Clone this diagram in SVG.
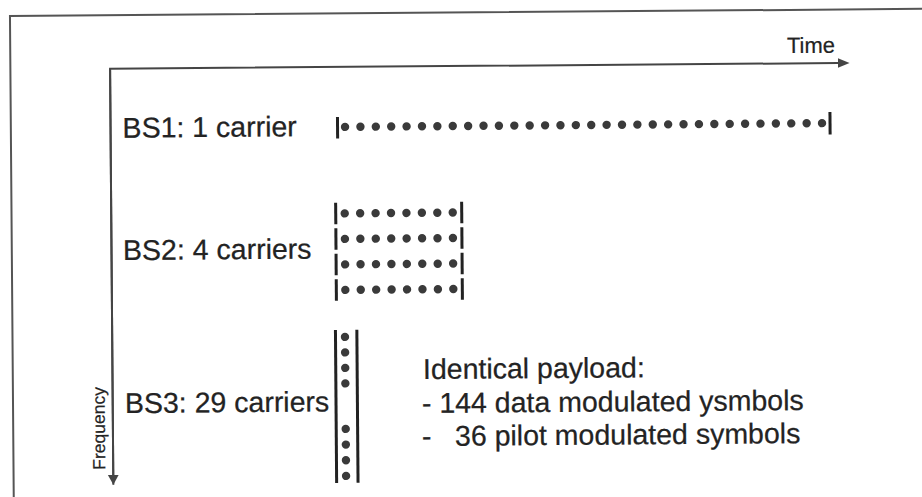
<svg xmlns="http://www.w3.org/2000/svg" width="922" height="497" viewBox="0 0 922 497">
  <style>
    .lbl { font-family: "Liberation Sans", Arial, sans-serif; font-size: 28.5px; fill: #232323; stroke: #232323; stroke-width: 0.25px; }
    .small { font-family: "Liberation Sans", Arial, sans-serif; fill: #232323; stroke: #232323; stroke-width: 0.2px; }
    .frame { fill: none; stroke: #555555; stroke-width: 2; }
    .axis { fill: none; stroke: #454545; stroke-width: 2; }
    .tick { stroke: #222222; stroke-width: 3; stroke-linecap: butt; }
    .dots { fill: none; stroke: #3a3a3a; stroke-width: 8.4; stroke-linecap: round; }
  </style>
  <defs>
    <marker id="arrowT" markerUnits="userSpaceOnUse" markerWidth="13" markerHeight="11" refX="0.5" refY="5" orient="auto" viewBox="0 0 13 10">
      <path d="M0,0 L12,5 L0,10 z" fill="#454545"/>
    </marker>
    <marker id="arrowF" markerUnits="userSpaceOnUse" markerWidth="11" markerHeight="12" refX="0.5" refY="5.5" orient="auto" viewBox="0 0 11 11">
      <path d="M0,0 L10,5.5 L0,11 z" fill="#454545"/>
    </marker>
  </defs>
  <rect x="0" y="0" width="922" height="497" fill="#ffffff"/>
  <g transform="rotate(-0.45 461 248)">
    <g id="frame">
      <path class="frame" d="M11.8,520 V12.5 H940"/>
    </g>
    <g id="connectors">
      <path class="axis" d="M111.5,482 V66 H839.5" marker-end="url(#arrowT)"/>
      <path class="axis" d="M111.5,66 V472.5" marker-end="url(#arrowF)"/>
    </g>
    <g id="time-label">
      <text class="small" x="788.5" y="55.6" font-size="22">Time</text>
    </g>
    <g id="frequency-label">
      <text class="small" font-size="17.5" transform="translate(103.5,467) rotate(-90)">Frequency</text>
    </g>
    <g id="bs1">
      <text class="lbl" x="123.5" y="135">BS1: 1 carrier</text>
      <line class="tick" x1="338.5" y1="116" x2="338.5" y2="137.5"/>
      <path class="dots" d="M346,126 H823.1" stroke-dasharray="0 15.387"/>
      <line class="tick" x1="831" y1="115" x2="831" y2="137.5"/>
    </g>
    <g id="bs2">
      <text class="lbl" x="123" y="257.4">BS2: 4 carriers</text>
      <g>
        <line class="tick" x1="336" y1="201.7" x2="336" y2="223.3"/>
        <line class="tick" x1="462" y1="201.7" x2="462" y2="223.3"/>
        <path class="dots" d="M345,212.5 H453.1" stroke-dasharray="0 15.43"/>
      </g>
      <g>
        <line class="tick" x1="336" y1="227.2" x2="336" y2="248.8"/>
        <line class="tick" x1="462" y1="227.2" x2="462" y2="248.8"/>
        <path class="dots" d="M345,238 H453.1" stroke-dasharray="0 15.43"/>
      </g>
      <g>
        <line class="tick" x1="336" y1="252.7" x2="336" y2="274.3"/>
        <line class="tick" x1="462" y1="252.7" x2="462" y2="274.3"/>
        <path class="dots" d="M345,263.5 H453.1" stroke-dasharray="0 15.43"/>
      </g>
      <g>
        <line class="tick" x1="336" y1="278.2" x2="336" y2="299.8"/>
        <line class="tick" x1="462" y1="278.2" x2="462" y2="299.8"/>
        <path class="dots" d="M345,289 H453.1" stroke-dasharray="0 15.43"/>
      </g>
    </g>
    <g id="bs3">
      <text class="lbl" x="123.7" y="410.4">BS3: 29 carriers</text>
      <line class="tick" x1="334.8" y1="329" x2="334.8" y2="482"/>
      <line class="tick" x1="356.2" y1="329" x2="356.2" y2="482"/>
      <path class="dots" d="M344.3,336 V382.6" stroke-dasharray="0 15.5"/>
      <path class="dots" d="M344.3,428 V475.1" stroke-dasharray="0 15.67"/>
    </g>
    <g id="payload">
      <text class="lbl" x="422" y="378.7">Identical payload:</text>
      <text class="lbl" x="420.7" y="412.7">- 144 data modulated ysmbols</text>
      <text class="lbl" y="445.7"><tspan x="420.5">-</tspan><tspan x="453.5">36 pilot modulated symbols</tspan></text>
    </g>
  </g>
</svg>
